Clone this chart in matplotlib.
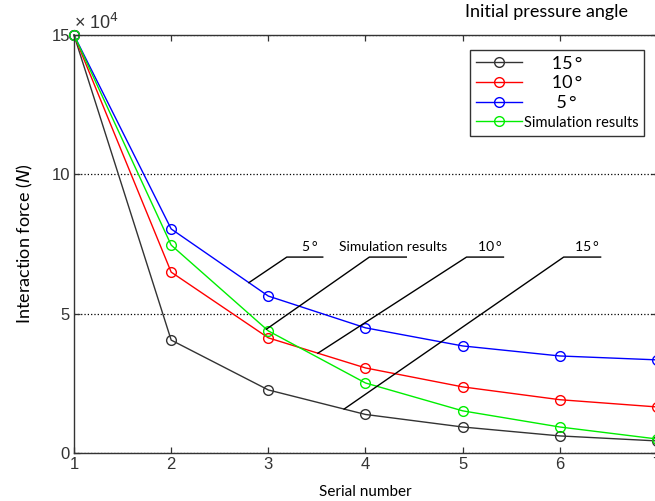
""" Interaction force vs serial number for several initial pressure angles """

import numpy as np
import matplotlib.pyplot as plt

serial = [1, 2, 3, 4, 5, 6, 7]

# interaction force, N
force_15 = [150000, 40500, 22600, 13800, 9300, 6100, 4300]
force_10 = [150000, 64900, 41300, 30500, 23700, 19100, 16500]
force_5 = [150000, 80400, 56300, 44900, 38400, 34800, 33400]
force_sim = [150000, 74600, 43800, 25100, 15100, 9300, 5000]

series = [
    ("15\u2009\u00b0", force_15, "#333333"),
    ("10\u2009\u00b0", force_10, "#ff0000"),
    ("5\u2009\u00b0", force_5, "#0000ff"),
    ("Simulation results", force_sim, "#00ee00"),
]

# callouts: label, curve, x where the leader touches the curve, knee x, end x
callouts = [
    ("5\u2009\u00b0", force_5, 2.80, 3.19, 3.56),
    ("Simulation results", force_sim, 2.98, 4.04, 4.42),
    ("10\u2009\u00b0", force_10, 3.51, 5.04, 5.42),
    ("15\u2009\u00b0", force_15, 3.78, 6.04, 6.42),
]
callout_y = 7.03

label_font = "Lato"
tick_font = "Liberation Sans"

fig = plt.figure(figsize=(6.55, 5.01), dpi=100)
ax = fig.add_axes([0.113, 0.096, 0.890, 0.834])

for name, vals, col in series:
    y = np.array(vals) / 1e4
    ax.plot(serial, y, color=col, lw=1.0, marker="o", ms=7,
            mfc="none", mec=col, mew=1.0, label=name, clip_on=False)

for text, vals, x0, xk, xe in callouts:
    y0 = np.interp(x0, serial, np.array(vals) / 1e4)
    ax.plot([x0, xk, xe], [y0, callout_y, callout_y], color="black", lw=1.0)
    ax.text((xk + xe) / 2 + 0.05, callout_y + 0.15, text, ha="center", va="bottom",
            fontsize=10, family=label_font)

ax.set_xlim(1, 7)
ax.set_ylim(0, 15)
ax.set_xticks(serial)
ax.set_yticks([0, 5, 10, 15])
ax.yaxis.grid(True, linestyle=":", color="black", lw=0.9)
ax.tick_params(direction="in", top=True, right=True, length=4, width=0.9,
               labelsize=12, colors="#333333", pad=3)
for lab in ax.get_xticklabels() + ax.get_yticklabels():
    lab.set_family(tick_font)
for sp in ax.spines.values():
    sp.set_color("#333333")
    sp.set_linewidth(1.0)

ax.text(0.0, 1.005, "\u00d7 10$^4$", transform=ax.transAxes, fontsize=13,
        family=tick_font, color="#333333", ha="left", va="bottom")

ax.set_xlabel("Serial number", fontsize=11, family=label_font, labelpad=9)
ax.set_ylabel("Interaction force ($\\it{N}$)", fontsize=13, family=label_font, labelpad=12)

leg = ax.legend(loc="upper left", bbox_to_anchor=(0.664, 0.985),
                frameon=True, fancybox=False, edgecolor="black", handlelength=2.6,
                labelspacing=0.2, borderpad=0.3, handletextpad=0.1,
                prop={"family": label_font, "size": 13})
leg.get_frame().set_linewidth(1.0)
pads = ["      ", "      ", "       ", ""]
for t, pad in zip(leg.get_texts(), pads):
    t.set_text(pad + t.get_text())
leg.get_texts()[-1].set_fontsize(10.5)

ax.text(0.81, 1.035, "Initial pressure angle", transform=ax.transAxes, fontsize=13,
        family=label_font, ha="center", va="bottom")

fig.savefig("out.png", dpi=100)
plt.close(fig)
